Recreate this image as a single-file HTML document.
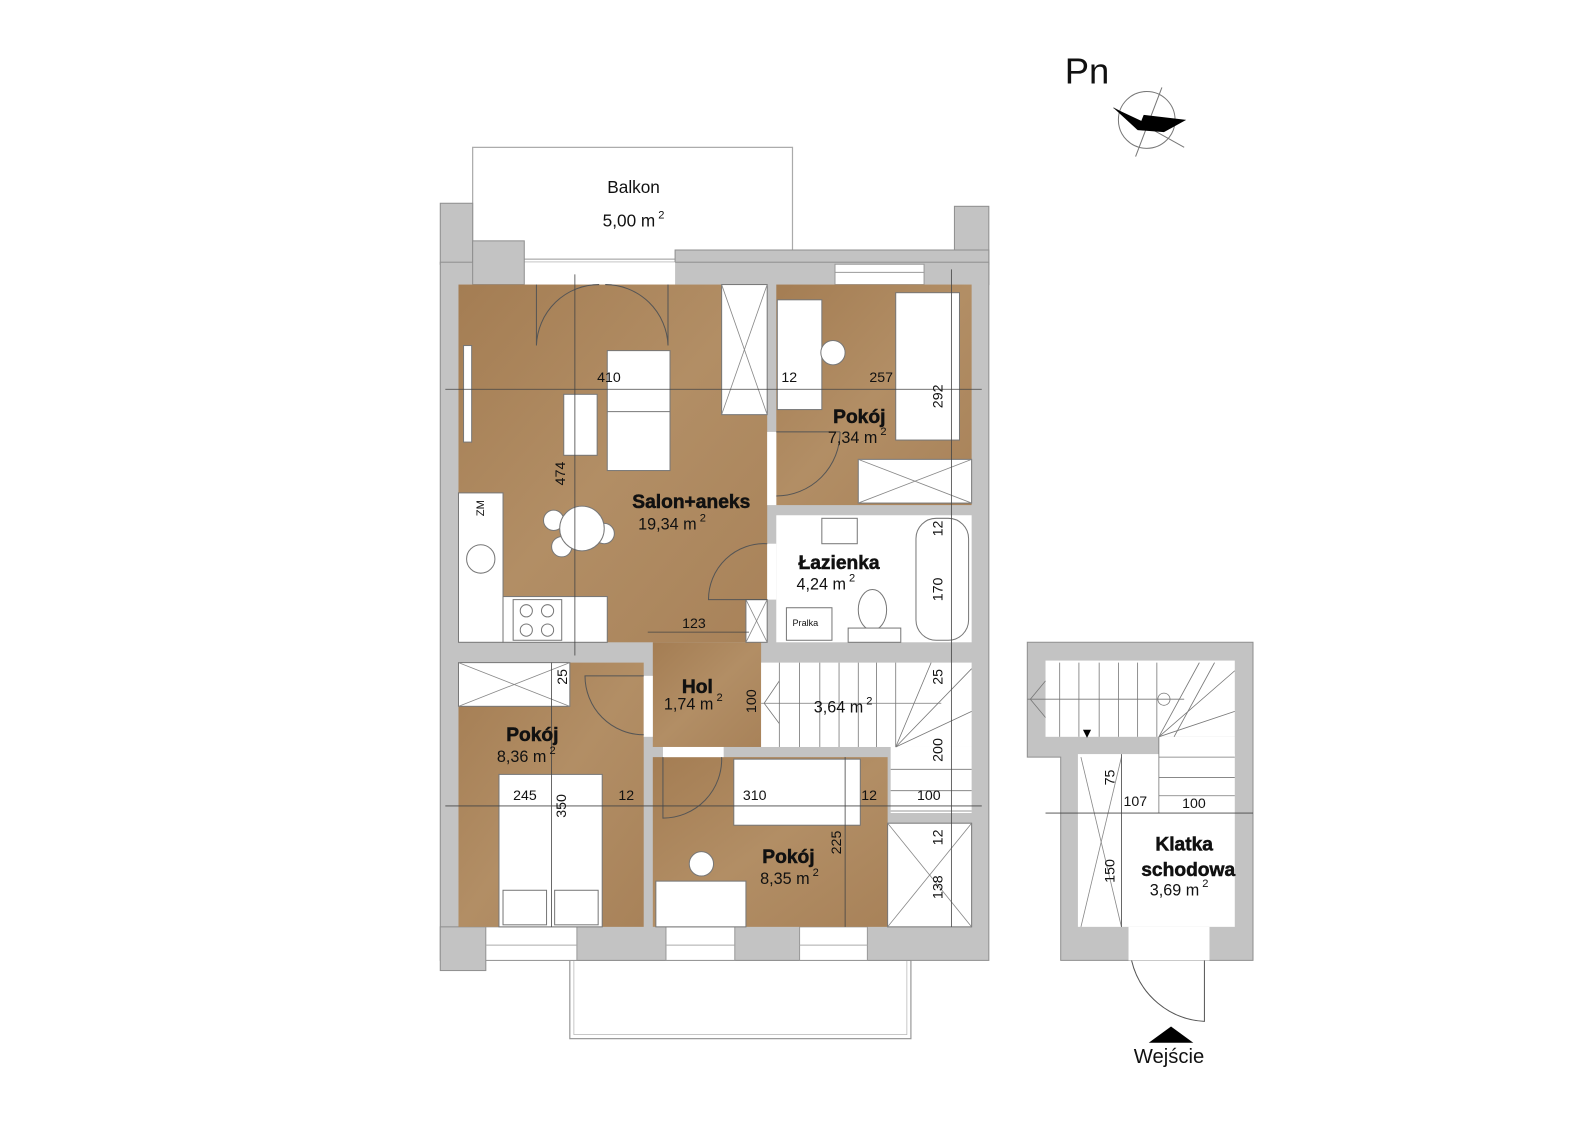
<!DOCTYPE html>
<html><head><meta charset="utf-8"><style>
html,body{margin:0;padding:0;background:#fff;width:1587px;height:1123px;overflow:hidden}
svg{display:block}
text{font-family:"Liberation Sans","DejaVu Sans",sans-serif;fill:#111}
.b{font-weight:bold;font-size:19px;text-anchor:middle;stroke:#111;stroke-width:0.5}
.a{font-size:16px;text-anchor:middle}
.s{font-size:11px}
.d{font-size:14px;fill:#222}
</style></head><body>
<svg width="1587" height="1123" viewBox="0 0 1568 1105" preserveAspectRatio="none" xmlns="http://www.w3.org/2000/svg">
<defs>
<linearGradient id="w" x1="0" y1="0" x2="1" y2="1">
<stop offset="0" stop-color="#a47d53"/><stop offset="0.5" stop-color="#b28e65"/><stop offset="1" stop-color="#a88259"/>
</linearGradient>
</defs>
<text x="1052" y="82" style="font-size:36px;fill:#111">Pn</text>
<g stroke="#777" stroke-width="1" fill="none">
<circle cx="1133" cy="118" r="28"/>
<line x1="1148" y1="86" x2="1122" y2="154"/>
<line x1="1100" y1="106" x2="1170" y2="145"/>
</g>
<polygon points="1100,106 1130,120 1124,128" fill="#000"/>
<polygon points="1130,113 1172,118 1150,130 1124,128" fill="#000"/>

<rect x="467" y="145" width="316" height="110" fill="none" stroke="#aaa" stroke-width="1.2"/>
<rect x="563" y="945" width="337" height="77" fill="none" stroke="#999" stroke-width="1.2"/>
<rect x="567" y="945" width="329" height="73" fill="none" stroke="#bbb" stroke-width="0.8"/>
<text x="626" y="190" style="font-size:17px;text-anchor:middle">Balkon</text>
<text x="626" y="223" style="font-size:17px;text-anchor:middle">5,00 m<tspan class="s" dy="-8" dx="3">2</tspan></text>

<g fill="#c3c3c3" stroke="#8f8f8f" stroke-width="1">
<rect x="435" y="200" width="32" height="60"/>
<rect x="943" y="203" width="34" height="57"/>
<rect x="667" y="246" width="310" height="34"/>
<rect x="435" y="258" width="542" height="687"/>
<rect x="435" y="912" width="45" height="43"/>
<polygon points="1015,632 1238,632 1238,945 1048,945 1048,745 1015,745"/>
</g>
<rect x="518" y="258" width="149" height="22" fill="#fff"/>
<rect x="467" y="237" width="51" height="43" fill="#c3c3c3" stroke="#8f8f8f"/>
<rect x="825" y="260" width="88" height="20" fill="#fff" stroke="#999"/>
<line x1="825" y1="268" x2="913" y2="268" stroke="#999"/>
<g fill="#fff" stroke="#999">
<rect x="480" y="912" width="90" height="33"/><rect x="658" y="912" width="68" height="33"/><rect x="790" y="912" width="67" height="33"/>
</g>
<g stroke="#aaa"><line x1="480" y1="930" x2="570" y2="930"/><line x1="658" y1="930" x2="726" y2="930"/><line x1="790" y1="930" x2="857" y2="930"/></g>

<rect x="453" y="280" width="305" height="352" fill="url(#w)"/>
<rect x="767" y="280" width="193" height="217" fill="url(#w)"/>
<rect x="767" y="507" width="193" height="125" fill="#fff"/>
<rect x="645" y="632" width="107" height="103" fill="url(#w)"/>
<rect x="752" y="652" width="208" height="83" fill="#fff"/>
<rect x="880" y="735" width="80" height="65" fill="#fff"/>
<rect x="453" y="652" width="183" height="260" fill="url(#w)"/>
<rect x="645" y="745" width="232" height="167" fill="url(#w)"/>
<rect x="877" y="810" width="83" height="102" fill="#fff"/>
<rect x="758" y="425" width="9" height="72" fill="#fff"/>
<rect x="758" y="535" width="9" height="55" fill="#fff"/>
<rect x="636" y="665" width="9" height="60" fill="#fff"/>
<rect x="655" y="735" width="60" height="10" fill="#fff"/>

<rect x="1033" y="650" width="187" height="75" fill="#fff"/>
<rect x="1145" y="725" width="75" height="20" fill="#fff"/>
<rect x="1065" y="742" width="155" height="170" fill="#fff"/>
<rect x="1115" y="912" width="80" height="33" fill="#fff"/>

<g fill="#fff" stroke="#777" stroke-width="1">
<rect x="713" y="280" width="45" height="128"/>
<rect x="453" y="485" width="44" height="147"/>
<rect x="497" y="587" width="103" height="45"/>
<rect x="737" y="590" width="21" height="42"/>
<rect x="600" y="345" width="62" height="118"/>
<line x1="600" y1="405" x2="662" y2="405"/>
<rect x="557" y="388" width="33" height="60"/>
<circle cx="547" cy="512" r="10"/><circle cx="597" cy="525" r="10"/><circle cx="555" cy="538" r="10"/>
<circle cx="575" cy="520" r="22"/>
<circle cx="475" cy="550" r="14"/>
<rect x="507" y="590" width="48" height="40"/>
<circle cx="520" cy="601" r="6"/><circle cx="541" cy="601" r="6"/><circle cx="520" cy="620" r="6"/><circle cx="541" cy="620" r="6"/>
<rect x="458" y="340" width="8" height="95"/>
<rect x="885" y="288" width="63" height="145"/>
<rect x="768" y="295" width="44" height="108"/>
<rect x="848" y="452" width="112" height="43"/>
<circle cx="823" cy="347" r="12"/>
<rect x="905" y="510" width="52" height="120" rx="20"/>
<rect x="812" y="510" width="35" height="25"/>
<rect x="777" y="598" width="45" height="32"/>
<ellipse cx="862" cy="600" rx="14" ry="20"/>
<rect x="838" y="618" width="52" height="14"/>
<rect x="453" y="652" width="110" height="43"/>
<rect x="493" y="762" width="102" height="150"/>
<rect x="497" y="876" width="43" height="34"/><rect x="548" y="876" width="43" height="34"/>
<rect x="725" y="747" width="125" height="65"/>
<rect x="648" y="867" width="89" height="45"/>
<circle cx="693" cy="850" r="12"/>
<rect x="877" y="810" width="83" height="102"/>
</g>
<text x="783" y="616" style="font-size:9px">Pralka</text>
<g stroke="#888" stroke-width="0.8">
<line x1="713" y1="280" x2="758" y2="408"/><line x1="758" y1="280" x2="713" y2="408"/>
<line x1="737" y1="590" x2="758" y2="632"/><line x1="758" y1="590" x2="737" y2="632"/>
<line x1="848" y1="452" x2="960" y2="495"/><line x1="960" y1="452" x2="848" y2="495"/>
<line x1="453" y1="652" x2="563" y2="695"/><line x1="563" y1="652" x2="453" y2="695"/>
<line x1="877" y1="810" x2="960" y2="912"/><line x1="960" y1="810" x2="877" y2="912"/>
<line x1="1068" y1="745" x2="1108" y2="912"/><line x1="1108" y1="745" x2="1068" y2="912"/>
</g>
<g fill="none" stroke="#555" stroke-width="1">
<path d="M530 280 V340 M530 340 A62 62 0 0 1 592 280"/>
<path d="M660 280 V340 M660 340 A62 62 0 0 0 598 280"/>
<path d="M767 425 H830 M830 425 A63 63 0 0 1 767 488"/>
<path d="M758 535 A55 55 0 0 0 700 590 H758"/>
<path d="M636 665 H578 A58 58 0 0 0 636 723"/>
<path d="M655 745 V805 A58 58 0 0 0 713 745"/>
<path d="M1190 945 V1005 A78 78 0 0 1 1118 945"/>
</g>
<g stroke="#777" stroke-width="0.8" fill="none">
<line x1="770" y1="652" x2="770" y2="735"/><line x1="790" y1="652" x2="790" y2="735"/><line x1="810" y1="652" x2="810" y2="735"/><line x1="829" y1="652" x2="829" y2="735"/><line x1="848" y1="652" x2="848" y2="735"/><line x1="866" y1="652" x2="866" y2="735"/><line x1="885" y1="652" x2="885" y2="735"/>
<line x1="752" y1="692" x2="930" y2="692"/><polyline points="770,670 755,692 770,712"/>
<line x1="885" y1="735" x2="920" y2="652"/><line x1="885" y1="735" x2="960" y2="658"/><line x1="885" y1="735" x2="960" y2="700"/>
<line x1="880" y1="757" x2="960" y2="757"/><line x1="880" y1="778" x2="960" y2="778"/><line x1="880" y1="798" x2="960" y2="798"/>
<line x1="1047" y1="652" x2="1047" y2="725"/><line x1="1066" y1="652" x2="1066" y2="725"/><line x1="1086" y1="652" x2="1086" y2="725"/><line x1="1105" y1="652" x2="1105" y2="725"/><line x1="1124" y1="652" x2="1124" y2="725"/><line x1="1143" y1="652" x2="1143" y2="725"/>
<line x1="1015" y1="688" x2="1170" y2="688"/><polyline points="1033,670 1018,688 1033,706"/>
<line x1="1145" y1="725" x2="1185" y2="652"/><line x1="1145" y1="725" x2="1220" y2="660"/><line x1="1145" y1="725" x2="1220" y2="700"/><line x1="1160" y1="725" x2="1200" y2="652"/>
<circle cx="1150" cy="688" r="6"/>
<line x1="1145" y1="745" x2="1220" y2="745"/><line x1="1145" y1="765" x2="1220" y2="765"/><line x1="1145" y1="783" x2="1220" y2="783"/>
<line x1="1145" y1="725" x2="1145" y2="800"/>
</g>
<polygon points="1070,718 1078,718 1074,726" fill="#000"/>
<polygon points="1135,1026 1179,1026 1157,1010" fill="#000"/>
<text x="1155" y="1046" style="font-size:20px;text-anchor:middle">Wejście</text>

<g stroke="#444" stroke-width="0.8">
<line x1="440" y1="383" x2="970" y2="383"/>
<line x1="568" y1="270" x2="568" y2="645"/>
<line x1="440" y1="793" x2="970" y2="793"/>
<line x1="545" y1="652" x2="545" y2="912"/>
<line x1="835" y1="745" x2="835" y2="912"/>
<line x1="940" y1="265" x2="940" y2="912"/>
<line x1="640" y1="622" x2="740" y2="622"/>
<line x1="1033" y1="800" x2="1238" y2="800"/>
<line x1="1108" y1="742" x2="1108" y2="912"/>
</g>
<g class="d">
<text x="590" y="376">410</text><text x="772" y="376">12</text><text x="859" y="376">257</text>
<text x="674" y="618">123</text>
<text x="507" y="787">245</text><text x="611" y="787">12</text><text x="734" y="787">310</text><text x="851" y="787">12</text><text x="906" y="787">100</text>
<text x="1110" y="793">107</text><text x="1168" y="795">100</text>
</g>
<g class="d" text-anchor="middle">
<text transform="translate(558,466) rotate(-90)">474</text>
<text transform="translate(931,390) rotate(-90)">292</text>
<text transform="translate(931,520) rotate(-90)">12</text>
<text transform="translate(931,580) rotate(-90)">170</text>
<text transform="translate(931,666) rotate(-90)">25</text>
<text transform="translate(931,738) rotate(-90)">200</text>
<text transform="translate(931,824) rotate(-90)">12</text>
<text transform="translate(931,873) rotate(-90)">138</text>
<text transform="translate(560,666) rotate(-90)">25</text>
<text transform="translate(559,793) rotate(-90)">350</text>
<text transform="translate(747,690) rotate(-90)">100</text>
<text transform="translate(831,829) rotate(-90)">225</text>
<text transform="translate(1101,765) rotate(-90)">75</text>
<text transform="translate(1101,857) rotate(-90)">150</text>
<text transform="translate(478,500) rotate(-90)" style="font-size:11px">ZM</text>
</g>

<text x="683" y="500" class="b">Salon+aneks</text><text x="664" y="521" class="a">19,34 m<tspan class="s" dy="-8" dx="3">2</tspan></text>
<text x="849" y="416" class="b">Pokój</text><text x="847" y="436" class="a">7,34 m<tspan class="s" dy="-8" dx="3">2</tspan></text>
<text x="829" y="560" class="b">Łazienka</text><text x="816" y="580" class="a">4,24 m<tspan class="s" dy="-8" dx="3">2</tspan></text>
<text x="689" y="682" class="b">Hol</text><text x="685" y="698" class="a">1,74 m<tspan class="s" dy="-8" dx="3">2</tspan></text>
<text x="833" y="701" class="a">3,64 m<tspan class="s" dy="-8" dx="3">2</tspan></text>
<text x="526" y="729" class="b">Pokój</text><text x="520" y="750" class="a">8,36 m<tspan class="s" dy="-8" dx="3">2</tspan></text>
<text x="779" y="849" class="b">Pokój</text><text x="780" y="870" class="a">8,35 m<tspan class="s" dy="-8" dx="3">2</tspan></text>
<text x="1170" y="837" class="b">Klatka</text><text x="1174" y="862" class="b">schodowa</text><text x="1165" y="881" class="a">3,69 m<tspan class="s" dy="-8" dx="3">2</tspan></text>
</svg>
</body></html>
